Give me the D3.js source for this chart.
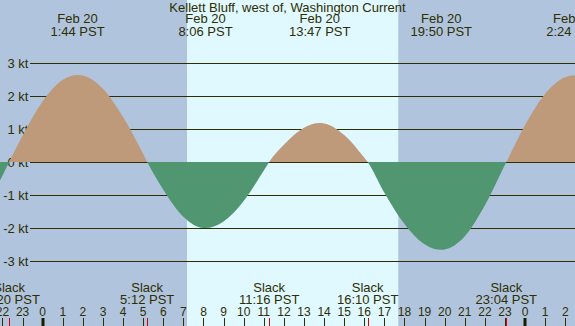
<!DOCTYPE html>
<html>
<head>
<meta charset="utf-8">
<script src="https://cdn.jsdelivr.net/npm/d3@7"></script>
<style>
  html, body { margin: 0; padding: 0; background: #ffffff; }
  svg { display: block; font-family: "Liberation Sans", Arial, sans-serif; }
</style>
</head>
<body>
<svg id="chart" width="575" height="326"></svg>
<script>
// ---- data (hours relative to midnight Feb 20, PST) ----
const title = "Kellett Bluff, west of, Washington Current";
const hours = [-2.3, -2, -1.667, -1, 0, 1, 1.733, 2, 3, 4, 5, 5.2, 6, 7, 8, 8.1, 9, 10, 11, 11.267,
               12, 13, 13.783, 14, 15, 16, 16.167, 17, 18, 19, 19.833, 20, 21, 22, 23, 23.067,
               24, 25, 26, 26.4, 26.6];
const knots = [-0.77, -0.41, 0, 0.80, 1.84, 2.49, 2.64, 2.62, 2.22, 1.36, 0.24, 0, -0.84, -1.66, -2.00, -2.00, -1.80, -1.18, -0.26, 0,
               0.52, 1.04, 1.18, 1.17, 0.82, 0.13, 0, -0.93, -1.88, -2.49, -2.66, -2.65, -2.25, -1.31, -0.08, 0,
               1.12, 2.07, 2.57, 2.62, 2.61];
const maxHours = [1.733, 8.1, 13.783, 19.833, 26.4];
const maxDates = ["Feb 20", "Feb 20", "Feb 20", "Feb 20", "Feb 21"];
const maxTimes = ["1:44 PST", "8:06 PST", "13:47 PST", "19:50 PST", "2:24 PST"];
const slackHours = [-1.667, 5.2, 11.267, 16.167, 23.067];
const slackTimes = ["22:20 PST", "5:12 PST", "11:16 PST", "16:10 PST", "23:04 PST"];
const sunrise = 7.18, sunset = 17.69;
const yTicks = [3, 2, 1, 0, -1, -2, -3];
const hourTicks = d3.range(-2, 27);

// ---- layout ----
const W = 575, H = 326;
const x = d3.scaleLinear().domain([-2.124, 26.483]).range([0, W]);
const y = d3.scaleLinear().domain([-3, 3]).range([261, 63]);
const textColor = "#2e2e00";
const svg = d3.select("#chart");

// background: night / day
svg.append("rect").attr("x", 0).attr("y", 0).attr("width", W).attr("height", H).attr("fill", "#b0c4de");
svg.append("rect").attr("x", x(sunrise)).attr("y", 0)
  .attr("width", x(sunset) - x(sunrise)).attr("height", H).attr("fill", "#e0f8ff");

// grid lines
svg.append("g").selectAll("line").data(yTicks).join("line")
  .attr("x1", 30).attr("x2", W)
  .attr("y1", d => Math.round(y(d)) + 0.5).attr("y2", d => Math.round(y(d)) + 0.5)
  .attr("stroke", textColor).attr("stroke-width", 1);

// y labels
svg.append("g").selectAll("text").data(yTicks).join("text")
  .attr("x", 28.5).attr("y", d => y(d) + 5)
  .attr("text-anchor", "end").attr("font-size", 13).attr("fill", textColor)
  .text(d => d + " kt");

// current areas
const pts = hours.map((h, i) => [h, knots[i]]);
const yZero = Math.round(y(0));
const defs = svg.append("defs");
defs.append("clipPath").attr("id", "pos").append("rect")
  .attr("x", 0).attr("y", 0).attr("width", W).attr("height", yZero);
defs.append("clipPath").attr("id", "neg").append("rect")
  .attr("x", 0).attr("y", yZero).attr("width", W).attr("height", H - yZero);
const area = d3.area().x(d => x(d[0])).y0(yZero).y1(d => y(d[1])).curve(d3.curveMonotoneX);
svg.append("path").datum(pts).attr("d", area).attr("fill", "#be9a7a").attr("clip-path", "url(#pos)");
svg.append("path").datum(pts).attr("d", area).attr("fill", "#509670").attr("clip-path", "url(#neg)");

// title
svg.append("text").attr("x", W / 2).attr("y", 12).attr("text-anchor", "middle")
  .attr("font-size", 13).attr("fill", textColor).text(title);

// max/min labels
const topLabels = svg.append("g").attr("font-size", 13).attr("fill", textColor).attr("text-anchor", "middle");
maxHours.forEach((h, i) => {
  topLabels.append("text").attr("x", x(h)).attr("y", 23).text(maxDates[i]);
  topLabels.append("text").attr("x", x(h)).attr("y", 36).text(maxTimes[i]);
});

// slack labels
const botLabels = svg.append("g").attr("font-size", 13).attr("fill", textColor).attr("text-anchor", "middle");
slackHours.forEach((h, i) => {
  botLabels.append("text").attr("x", x(h)).attr("y", 292).text("Slack");
  botLabels.append("text").attr("x", x(h)).attr("y", 304).text(slackTimes[i]);
});

// hour ticks and labels
const isMid = d => ((d % 24) + 24) % 24 === 0;
const ax = svg.append("g");
ax.selectAll("text").data(hourTicks).join("text")
  .attr("x", d => x(d)).attr("y", 316).attr("text-anchor", "middle")
  .attr("font-size", 12).attr("fill", textColor)
  .text(d => ((d % 24) + 24) % 24);
ax.selectAll("rect.tk").data(hourTicks).join("rect").attr("class", "tk")
  .attr("x", d => isMid(d) ? Math.round(x(d)) - 1.5 : Math.round(x(d)))
  .attr("y", 318)
  .attr("width", d => isMid(d) ? 3 : 1)
  .attr("height", 8).attr("fill", d => isMid(d) ? "#1a1a00" : textColor);
ax.selectAll("rect.sl").data(slackHours).join("rect").attr("class", "sl")
  .attr("x", d => Math.round(x(d))).attr("y", 318).attr("width", 1).attr("height", 8)
  .attr("fill", "#e00000");
</script>
</body>
</html>
